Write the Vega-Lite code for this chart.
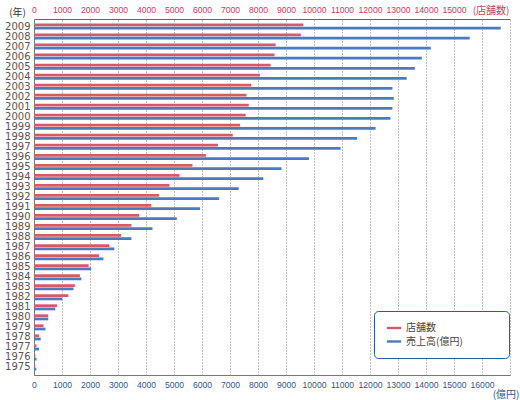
{
  "$schema": "https://vega.github.io/schema/vega-lite/v6.json",
  "width": 476,
  "height": 356,
  "autosize": "none",
  "padding": {"left": 34, "top": 19, "right": 10, "bottom": 25},
  "background": "white",
  "config": {"view": {"stroke": null}, "font": "Liberation Sans"},
  "data": {
    "values": [
      {"year": "2009", "series": "店舗数", "value": 9620}, {"year": "2009", "series": "売上高(億円)", "value": 16670},
      {"year": "2008", "series": "店舗数", "value": 9530}, {"year": "2008", "series": "売上高(億円)", "value": 15560},
      {"year": "2007", "series": "店舗数", "value": 8630}, {"year": "2007", "series": "売上高(億円)", "value": 14170},
      {"year": "2006", "series": "店舗数", "value": 8590}, {"year": "2006", "series": "売上高(億円)", "value": 13850},
      {"year": "2005", "series": "店舗数", "value": 8450}, {"year": "2005", "series": "売上高(億円)", "value": 13600},
      {"year": "2004", "series": "店舗数", "value": 8070}, {"year": "2004", "series": "売上高(億円)", "value": 13310},
      {"year": "2003", "series": "店舗数", "value": 7760}, {"year": "2003", "series": "売上高(億円)", "value": 12800},
      {"year": "2002", "series": "店舗数", "value": 7590}, {"year": "2002", "series": "売上高(億円)", "value": 12850},
      {"year": "2001", "series": "店舗数", "value": 7670}, {"year": "2001", "series": "売上高(億円)", "value": 12800},
      {"year": "2000", "series": "店舗数", "value": 7560}, {"year": "2000", "series": "売上高(億円)", "value": 12730},
      {"year": "1999", "series": "店舗数", "value": 7360}, {"year": "1999", "series": "売上高(億円)", "value": 12200},
      {"year": "1998", "series": "店舗数", "value": 7100}, {"year": "1998", "series": "売上高(億円)", "value": 11540},
      {"year": "1997", "series": "店舗数", "value": 6570}, {"year": "1997", "series": "売上高(億円)", "value": 10950},
      {"year": "1996", "series": "店舗数", "value": 6140}, {"year": "1996", "series": "売上高(億円)", "value": 9820},
      {"year": "1995", "series": "店舗数", "value": 5660}, {"year": "1995", "series": "売上高(億円)", "value": 8840},
      {"year": "1994", "series": "店舗数", "value": 5200}, {"year": "1994", "series": "売上高(億円)", "value": 8190},
      {"year": "1993", "series": "店舗数", "value": 4840}, {"year": "1993", "series": "売上高(億円)", "value": 7310},
      {"year": "1992", "series": "店舗数", "value": 4460}, {"year": "1992", "series": "売上高(億円)", "value": 6610},
      {"year": "1991", "series": "店舗数", "value": 4190}, {"year": "1991", "series": "売上高(億円)", "value": 5930},
      {"year": "1990", "series": "店舗数", "value": 3760}, {"year": "1990", "series": "売上高(億円)", "value": 5100},
      {"year": "1989", "series": "店舗数", "value": 3480}, {"year": "1989", "series": "売上高(億円)", "value": 4230},
      {"year": "1988", "series": "店舗数", "value": 3110}, {"year": "1988", "series": "売上高(億円)", "value": 3480},
      {"year": "1987", "series": "店舗数", "value": 2690}, {"year": "1987", "series": "売上高(億円)", "value": 2870},
      {"year": "1986", "series": "店舗数", "value": 2320}, {"year": "1986", "series": "売上高(億円)", "value": 2480},
      {"year": "1985", "series": "店舗数", "value": 1950}, {"year": "1985", "series": "売上高(億円)", "value": 2040},
      {"year": "1984", "series": "店舗数", "value": 1640}, {"year": "1984", "series": "売上高(億円)", "value": 1690},
      {"year": "1983", "series": "店舗数", "value": 1460}, {"year": "1983", "series": "売上高(億円)", "value": 1410},
      {"year": "1982", "series": "店舗数", "value": 1230}, {"year": "1982", "series": "売上高(億円)", "value": 1010},
      {"year": "1981", "series": "店舗数", "value": 820}, {"year": "1981", "series": "売上高(億円)", "value": 760},
      {"year": "1980", "series": "店舗数", "value": 510}, {"year": "1980", "series": "売上高(億円)", "value": 510},
      {"year": "1979", "series": "店舗数", "value": 340}, {"year": "1979", "series": "売上高(億円)", "value": 410},
      {"year": "1978", "series": "店舗数", "value": 180}, {"year": "1978", "series": "売上高(億円)", "value": 240},
      {"year": "1977", "series": "店舗数", "value": 90}, {"year": "1977", "series": "売上高(億円)", "value": 180},
      {"year": "1976", "series": "店舗数", "value": 50}, {"year": "1976", "series": "売上高(億円)", "value": 90},
      {"year": "1975", "series": "店舗数", "value": 40}, {"year": "1975", "series": "売上高(億円)", "value": 80}
    ]
  },
  "encoding": {
    "y": {
      "field": "year",
      "type": "ordinal",
      "sort": "descending",
      "scale": {"paddingInner": 0.4, "paddingOuter": 0.45},
      "axis": {
        "title": "(年)",
        "titleAngle": 0,
        "titleX": -17,
        "titleY": -7,
        "titleAlign": "center",
        "titleBaseline": "middle",
        "titleFont": "Noto Sans CJK JP",
        "titleFontSize": 10,
        "titleFontWeight": "normal",
        "titleColor": "#333333",
        "labelFont": "DejaVu Sans",
        "labelFontSize": 10,
        "labelColor": "#555555",
        "labelPadding": 4,
        "labelOverlap": false,
        "ticks": false,
        "domainColor": "#777777",
        "grid": false
      }
    },
    "yOffset": {
      "field": "series",
      "type": "nominal",
      "scale": {"domain": ["店舗数", "売上高(億円)"], "paddingInner": 0.15, "paddingOuter": 0}
    },
    "color": {
      "field": "series",
      "type": "nominal",
      "scale": {"domain": ["店舗数", "売上高(億円)"], "range": ["#d45a6a", "#4b7bbf"]},
      "legend": {
        "title": null,
        "orient": "none",
        "legendX": 340,
        "legendY": 292,
        "direction": "vertical",
        "strokeColor": "#2a5aa0",
        "fillColor": "white",
        "cornerRadius": 4,
        "padding": 11,
        "symbolType": "M-1.2,-0.2H1.2V0.2H-1.2Z",
        "symbolStrokeWidth": 0,
        "symbolSize": 144,
        "symbolOffset": 3,
        "labelOffset": 6,
        "labelFont": "Noto Sans CJK JP",
        "labelFontSize": 10,
        "labelColor": "#444444",
        "rowPadding": 2.5,
        "labelExpr": "datum.label + '\u2003\u2003\u2003\u2002\u200b'"
      }
    }
  },
  "layer": [
    {
      "transform": [{"filter": "datum.series == '店舗数'"}],
      "mark": {"type": "bar"},
      "encoding": {
        "x": {
          "field": "value",
          "type": "quantitative",
          "scale": {"domain": [0, 17000], "nice": false},
          "axis": {
            "orient": "top",
            "values": [0, 1000, 2000, 3000, 4000, 5000, 6000, 7000, 8000, 9000, 10000, 11000, 12000, 13000, 14000, 15000],
            "format": "d",
            "labelFont": "Liberation Sans",
            "labelFontSize": 8.6,
            "labelColor": "#c8405e",
            "labelPadding": 5,
            "labelFlush": false,
            "labelOverlap": false,
            "ticks": false,
            "grid": false,
            "domainColor": "#666666",
            "title": "(店舗数)",
            "titleX": 475,
            "titleY": -9,
            "titleAlign": "right",
            "titleBaseline": "middle",
            "titleFont": "Noto Sans CJK JP",
            "titleFontSize": 10,
            "titleFontWeight": "normal",
            "titleColor": "#c8405e"
          }
        }
      }
    },
    {
      "transform": [{"filter": "datum.series == '売上高(億円)'"}],
      "mark": {"type": "bar"},
      "encoding": {
        "x": {
          "field": "value",
          "type": "quantitative",
          "scale": {"domain": [0, 17000], "nice": false},
          "axis": {
            "orient": "bottom",
            "values": [0, 1000, 2000, 3000, 4000, 5000, 6000, 7000, 8000, 9000, 10000, 11000, 12000, 13000, 14000, 15000, 16000, 17000],
            "format": "d",
            "labelExpr": "datum.value == 17000 ? '' : datum.label",
            "labelFont": "Liberation Sans",
            "labelFontSize": 8.6,
            "labelColor": "#2b5797",
            "labelPadding": 5,
            "labelFlush": false,
            "labelOverlap": false,
            "ticks": false,
            "grid": true,
            "gridColor": "#888888",
            "gridDash": [1, 2],
            "gridWidth": 1,
            "domainColor": "#777777",
            "title": "(億円)",
            "titleX": 485,
            "titleY": 19,
            "titleAlign": "right",
            "titleBaseline": "middle",
            "titleFont": "Noto Sans CJK JP",
            "titleFontSize": 10,
            "titleFontWeight": "normal",
            "titleColor": "#2b5797"
          }
        }
      }
    }
  ],
  "resolve": {"scale": {"x": "independent"}}
}
